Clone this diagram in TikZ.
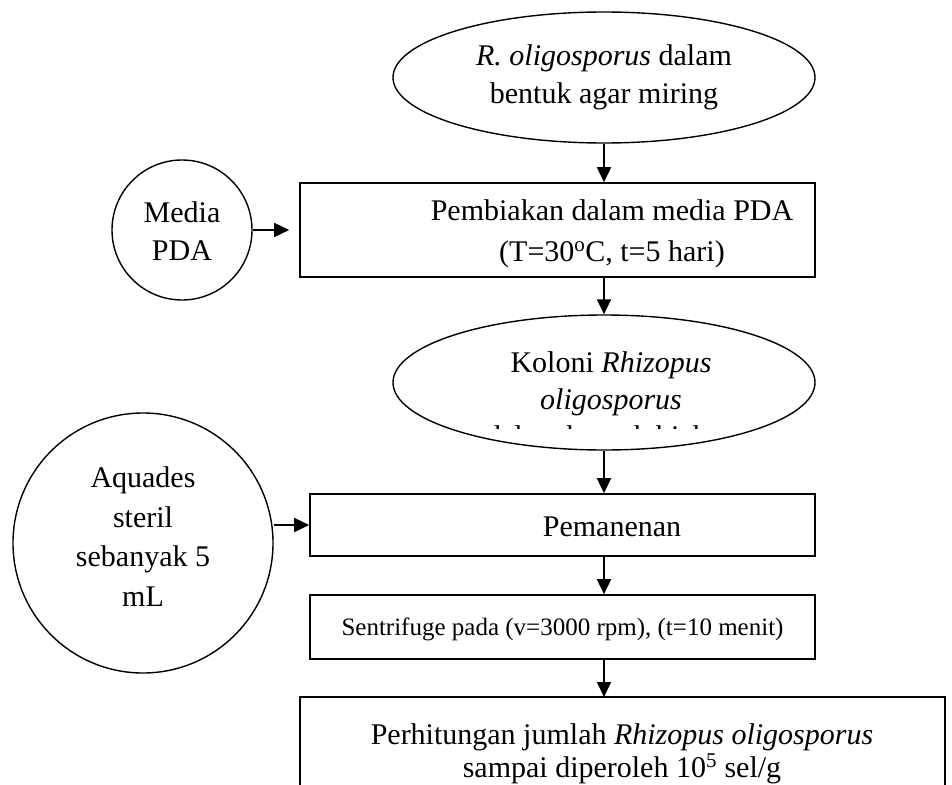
\documentclass[tikz,border=0pt]{standalone}
\usepackage{fontspec}
\setmainfont{Liberation Serif}
\usetikzlibrary{arrows.meta,shapes.geometric}

\tikzset{
	flowbox/.style={draw, line width=1.6pt, rectangle, inner sep=0pt},
	flowoval/.style={draw, line width=1.4pt, ellipse, inner sep=0pt},
	flowcirc/.style={draw, line width=1.4pt, circle, inner sep=0pt},
	flowtext/.style={align=center, inner sep=0pt, anchor=base},
	flowarrow/.style={line width=1.6pt, -{Triangle[length=15pt,width=14pt]}},
}

\begin{document}
\begin{tikzpicture}[x=1pt, y=-1pt, font=\fontsize{30}{38}\selectfont]
			%%%%% START %%%%%
			\useasboundingbox (0,0) rectangle (952,784);
			\clip (0,0) rectangle (952,784);
			
			% base anchor = baseline of the last line
			\node[flowoval, minimum width=422pt, minimum height=131pt] (agar) at (604,77.5) {};
			\node[flowtext] (agartext) at (604,103) {\textit{R. oligosporus} dalam\\bentuk agar miring};
			
			\node[flowbox, minimum width=515pt, minimum height=94pt] (biak) at (557.5,230) {};
			\node[flowtext, font=\fontsize{30}{41}\selectfont] (biaktext) at (612,261) {Pembiakan dalam media PDA\\(T=30\textsuperscript{o}C, t=5 hari)};
			
			\node[flowcirc, minimum size=140pt] (pda) at (182,230) {};
			\node[flowtext] (pdatext) at (182,260) {Media\\PDA};
			
			\node[flowoval, minimum width=422pt, minimum height=135pt] (koloni) at (604,382.5) {};
			\begin{scope}
				\clip (393,315) rectangle (815,428);
				\node[flowtext, font=\fontsize{30}{37}\selectfont] (kolonitext) at (611,446) {Koloni \textit{Rhizopus}\\\textit{oligosporus}\\dalam bentuk biakan};
			\end{scope}
			
			\node[flowcirc, minimum size=260pt] (aquades) at (143,543) {};
			\node[flowtext, font=\fontsize{30}{39.5}\selectfont] (aquadestext) at (143,606) {Aquades\\steril\\sebanyak 5\\mL};
			
			\node[flowbox, minimum width=505pt, minimum height=62pt] (panen) at (562.5,525) {};
			\node[flowtext] (panentext) at (612,536) {Pemanenan};
			
			\node[flowbox, minimum width=505pt, minimum height=64pt] (sentri) at (562.5,627) {};
			\node[flowtext, font=\fontsize{25}{30}\selectfont] (sentritext) at (562.5,635) {Sentrifuge pada (v=3000 rpm), (t=10 menit)};
			
			\draw[line width=1.6pt] (300,820) -- (300,697) coordinate (hitungtop) -- (945,697) -- (945,820);
			\node[flowtext, font=\fontsize{30}{33}\selectfont] (hitungtext) at (622,777) {Perhitungan jumlah \textit{Rhizopus oligosporus}\\sampai diperoleh 10\textsuperscript{5} sel/g};
			
			\draw[flowarrow] (agar.south) -- (agar.south |- biak.north);
			\draw[flowarrow] (biak.south -| agar) -- (koloni.north);
			\draw[flowarrow] (koloni.south) -- (koloni.south |- panen.north);
			\draw[flowarrow] (panen.south -| koloni) -- (sentri.north -| koloni);
			\draw[flowarrow] (sentri.south -| koloni) -- (hitungtop -| koloni);
			\draw[flowarrow, shorten >=10pt] (pda.east) -- (pda.east -| biak.west);
			\draw[flowarrow] (aquades.east |- panen.west) -- (panen.west);
			
			%%%%% END %%%%%
\end{tikzpicture}
\end{document}
